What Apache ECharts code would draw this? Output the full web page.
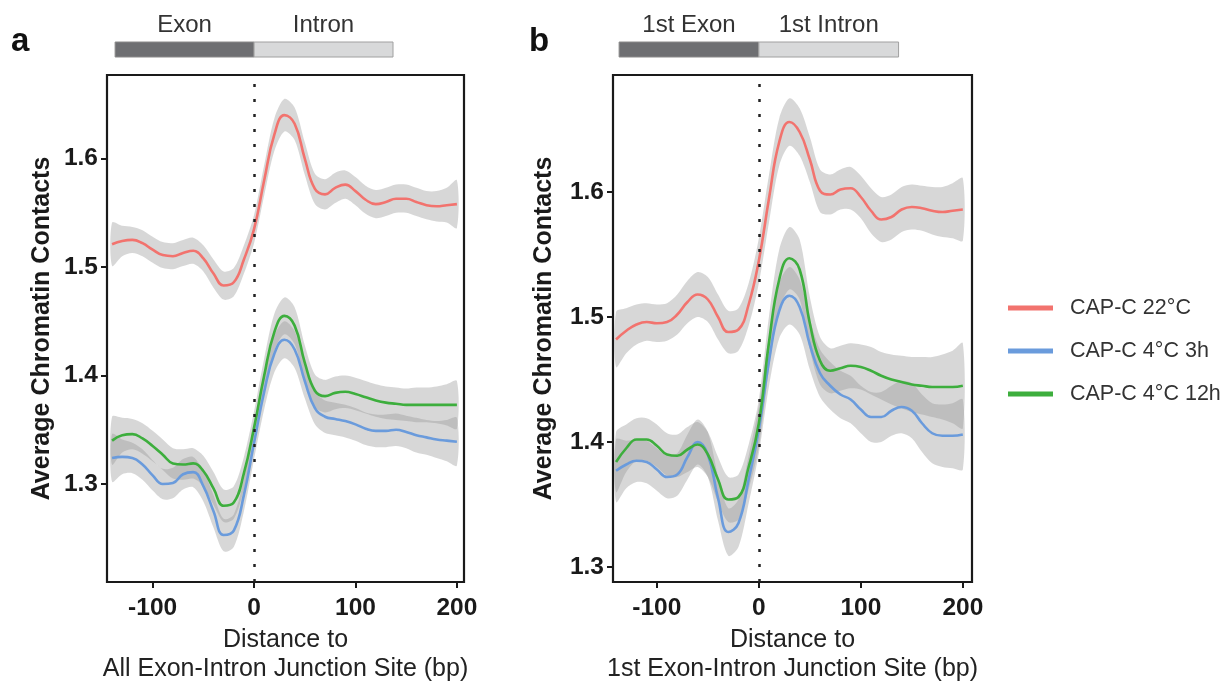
<!DOCTYPE html>
<html>
<head>
<meta charset="utf-8">
<script src="https://cdn.jsdelivr.net/npm/echarts@6/dist/echarts.min.js"></script>
<style>
html,body{margin:0;padding:0;background:#fff;}
#chart{width:1230px;height:681px;}
</style>
</head>
<body>
<div id="chart"></div>
<script>
// ---------- data ----------
const distance = [-140,-130,-120,-110,-100,-90,-80,-70,-60,-50,-40,-30,-20,-10,0,10,20,30,40,50,60,70,80,90,100,110,120,130,140,150,160,170,180,190,200];

const seriesNames = ['CAP-C 22°C', 'CAP-C 4°C 3h', 'CAP-C 4°C 12h'];

// Panel a: all exon-intron junctions
const aRed   = [1.521,1.524,1.525,1.522,1.516,1.511,1.510,1.513,1.515,1.508,1.494,1.483,1.486,1.507,1.535,1.580,1.622,1.640,1.632,1.600,1.572,1.567,1.573,1.576,1.570,1.562,1.558,1.560,1.563,1.563,1.560,1.557,1.556,1.557,1.558];
const aBlue  = [1.324,1.325,1.324,1.318,1.308,1.300,1.301,1.309,1.311,1.298,1.275,1.253,1.257,1.290,1.338,1.385,1.420,1.433,1.424,1.395,1.370,1.362,1.360,1.358,1.355,1.351,1.349,1.349,1.350,1.348,1.345,1.343,1.341,1.340,1.339];
const aGreen = [1.340,1.345,1.346,1.342,1.335,1.327,1.319,1.318,1.319,1.312,1.296,1.280,1.283,1.310,1.352,1.400,1.440,1.455,1.446,1.412,1.386,1.381,1.384,1.385,1.383,1.380,1.377,1.375,1.374,1.373,1.373,1.373,1.373,1.373,1.373];
const aRedSe   = [0.020,0.014,0.012,0.012,0.012,0.012,0.012,0.012,0.012,0.012,0.013,0.013,0.013,0.013,0.013,0.014,0.015,0.015,0.015,0.015,0.014,0.014,0.014,0.013,0.013,0.013,0.013,0.013,0.013,0.013,0.013,0.013,0.014,0.016,0.022];
const aBlueSe  = [0.022,0.016,0.014,0.014,0.014,0.014,0.014,0.014,0.014,0.014,0.015,0.015,0.015,0.015,0.015,0.016,0.017,0.017,0.017,0.016,0.015,0.015,0.015,0.015,0.015,0.015,0.015,0.015,0.015,0.015,0.016,0.016,0.017,0.019,0.022];
const aGreenSe = [0.022,0.016,0.014,0.014,0.014,0.014,0.014,0.014,0.014,0.014,0.015,0.015,0.015,0.015,0.015,0.016,0.017,0.017,0.017,0.016,0.015,0.015,0.015,0.015,0.015,0.015,0.015,0.015,0.015,0.015,0.016,0.016,0.017,0.019,0.022];

// Panel b: 1st exon-intron junctions
const bRed   = [1.482,1.489,1.494,1.496,1.495,1.496,1.502,1.512,1.518,1.514,1.500,1.488,1.490,1.510,1.545,1.595,1.640,1.656,1.648,1.626,1.601,1.598,1.602,1.603,1.596,1.585,1.578,1.580,1.586,1.588,1.587,1.585,1.584,1.585,1.586];
const bBlue  = [1.377,1.382,1.385,1.384,1.378,1.372,1.374,1.388,1.400,1.390,1.355,1.328,1.335,1.370,1.410,1.465,1.505,1.517,1.508,1.478,1.455,1.445,1.438,1.434,1.426,1.420,1.420,1.425,1.428,1.425,1.415,1.407,1.405,1.405,1.406];
const bGreen = [1.384,1.395,1.402,1.402,1.397,1.390,1.389,1.394,1.398,1.390,1.370,1.354,1.356,1.380,1.415,1.480,1.530,1.547,1.538,1.495,1.465,1.457,1.459,1.461,1.460,1.457,1.453,1.450,1.448,1.446,1.445,1.444,1.444,1.444,1.445];
const bRedSe   = [0.022,0.018,0.016,0.015,0.015,0.015,0.016,0.017,0.018,0.018,0.018,0.017,0.017,0.017,0.018,0.019,0.019,0.019,0.019,0.018,0.017,0.016,0.016,0.017,0.017,0.018,0.018,0.018,0.018,0.018,0.018,0.019,0.020,0.022,0.025];
const bBlueSe  = [0.025,0.019,0.017,0.017,0.017,0.017,0.017,0.018,0.018,0.018,0.018,0.019,0.019,0.019,0.019,0.020,0.022,0.023,0.022,0.020,0.019,0.019,0.019,0.019,0.019,0.020,0.020,0.020,0.021,0.022,0.023,0.024,0.025,0.026,0.028];
const bGreenSe = [0.024,0.019,0.017,0.017,0.017,0.017,0.017,0.018,0.018,0.018,0.018,0.018,0.018,0.018,0.019,0.021,0.024,0.025,0.024,0.021,0.019,0.018,0.018,0.018,0.018,0.019,0.019,0.020,0.021,0.022,0.023,0.024,0.026,0.029,0.034];

const xTicks = [-100, 0, 100, 200];
const yTicks = [1.3, 1.4, 1.5, 1.6];

const panelLetters = ['a', 'b'];
const xTitles = ['Distance to\nAll Exon-Intron Junction Site (bp)', 'Distance to\n1st Exon-Intron Junction Site (bp)'];
const yTitle = 'Average Chromatin Contacts';
const regionLabels = [['Exon', 'Intron'], ['1st Exon', '1st Intron']];
const regionBounds = [-137, 0, 137];

// ---------- styling ----------
const colors = ['#F2736E', '#6A9BDC', '#3DAE3D'];
const bandFill = 'rgba(150,150,150,0.38)';
const FONT = '"Liberation Sans", Arial, Helvetica, sans-serif';

const panels = [
  { vals: [aRed, aBlue, aGreen], se: [aRedSe, aBlueSe, aGreenSe] },
  { vals: [bRed, bBlue, bGreen], se: [bRedSe, bBlueSe, bGreenSe] }
];

const grids = [
  { left: 107, top: 75, width: 357, height: 507 },
  { left: 613, top: 75, width: 359, height: 507 }
];
const xRanges = [[-145, 207], [-143, 209]];
const yRanges = [[1.2097, 1.677], [1.288, 1.6936]];
const yNameGaps = [52, 56];

const series = [];
panels.forEach((p, pi) => {
  // confidence ribbons
  p.vals.forEach((v, si) => {
    const se = p.se[si];
    series.push({
      type: 'custom', name: 'band' + pi + si, xAxisIndex: pi, yAxisIndex: pi,
      silent: true, z: 1, clip: true,
      data: [[distance[0], v[0]]],
      encode: { x: 0, y: 1 },
      renderItem: function (params, api) {
        const up = distance.map((x, i) => api.coord([x, v[i] + se[i]]));
        const lo = distance.map((x, i) => api.coord([x, v[i] - se[i]])).reverse();
        return {
          type: 'polygon',
          shape: { points: up.concat(lo), smooth: 0.3 },
          style: { fill: bandFill, stroke: null }
        };
      }
    });
  });
  // mean lines
  p.vals.forEach((v, si) => {
    const s = {
      type: 'line', name: seriesNames[si], xAxisIndex: pi, yAxisIndex: pi,
      data: distance.map((x, i) => [x, v[i]]),
      smooth: 0.45, symbol: 'none',
      lineStyle: { color: colors[si], width: 2.6 },
      itemStyle: { color: colors[si] }, z: 3
    };
    if (si === 0) {
      s.markLine = {
        silent: true, symbol: 'none', animation: false,
        label: { show: false },
        lineStyle: { color: '#222', type: [3, 12], width: 2.5 },
        data: [{ xAxis: 0 }]
      };
    }
    series.push(s);
  });
});

const option = {
  animation: false,
  backgroundColor: '#fff',
  textStyle: { fontFamily: FONT },
  grid: grids.map(g => Object.assign({ show: true, borderColor: '#1a1a1a', borderWidth: 2.2, backgroundColor: 'transparent', containLabel: false, outerBoundsMode: 'none' }, g)),
  xAxis: [0, 1].map(i => ({
    type: 'value', gridIndex: i, min: xRanges[i][0], max: xRanges[i][1],
    splitLine: { show: false },
    axisLine: { show: false, onZero: false },
    axisTick: { show: true, customValues: xTicks, length: 6, lineStyle: { color: '#1a1a1a', width: 2 } },
    axisLabel: { customValues: xTicks, margin: 14, color: '#1a1a1a', fontSize: 24.5, fontWeight: 'bold', fontFamily: FONT },
    name: xTitles[i], nameLocation: 'middle', nameGap: 42,
    nameTextStyle: { color: '#222', fontSize: 25, lineHeight: 29, fontFamily: FONT }
  })),
  yAxis: [0, 1].map(i => ({
    type: 'value', gridIndex: i, min: yRanges[i][0], max: yRanges[i][1],
    splitLine: { show: false },
    axisLine: { show: false, onZero: false },
    axisTick: { show: true, customValues: yTicks, length: 6, lineStyle: { color: '#1a1a1a', width: 2 } },
    axisLabel: { customValues: yTicks, margin: 9, color: '#1a1a1a', fontSize: 24.5, fontWeight: 'bold', fontFamily: FONT,
      formatter: v => v.toFixed(1) },
    name: yTitle, nameLocation: 'middle', nameGap: yNameGaps[i], nameRotate: 90,
    nameTextStyle: { color: '#1a1a1a', fontSize: 25, fontWeight: 'bold', fontFamily: FONT }
  })),
  legend: {
    data: seriesNames, orient: 'vertical', left: 1003, top: 292,
    itemWidth: 45, itemHeight: 5, itemGap: 21, icon: 'rect',
    textStyle: { fontSize: 21.5, color: '#333', fontFamily: FONT, padding: [0, 0, 0, 12], lineHeight: 21 }
  },
  series: series
};

const chart = echarts.init(document.getElementById('chart'), null, { renderer: 'canvas' });
chart.setOption(option);

// ---------- annotations (region bars, panel letters) ----------
const graphics = [];
[0, 1].forEach(pi => {
  const px = regionBounds.map(v => chart.convertToPixel({ xAxisIndex: pi }, v));
  const barTop = 42, barH = 15;
  graphics.push({ type: 'rect', shape: { x: px[0], y: barTop, width: px[1] - px[0], height: barH },
    style: { fill: '#6e6f72', stroke: '#8a8a8a', lineWidth: 1 }, silent: true });
  graphics.push({ type: 'rect', shape: { x: px[1], y: barTop, width: px[2] - px[1], height: barH },
    style: { fill: '#d8d9da', stroke: '#a0a0a0', lineWidth: 1 }, silent: true });
  graphics.push({ type: 'text', x: (px[0] + px[1]) / 2, y: 25,
    style: { text: regionLabels[pi][0], fill: '#333', font: '24px ' + FONT, textAlign: 'center', textVerticalAlign: 'middle' }, silent: true });
  graphics.push({ type: 'text', x: (px[1] + px[2]) / 2, y: 25,
    style: { text: regionLabels[pi][1], fill: '#333', font: '24px ' + FONT, textAlign: 'center', textVerticalAlign: 'middle' }, silent: true });
  graphics.push({ type: 'text', x: pi === 0 ? 11 : 529, y: 42,
    style: { text: panelLetters[pi], fill: '#111', font: 'bold 33px ' + FONT, textAlign: 'left', textVerticalAlign: 'middle' }, silent: true });
});
chart.setOption({ graphic: graphics });
</script>
</body>
</html>
